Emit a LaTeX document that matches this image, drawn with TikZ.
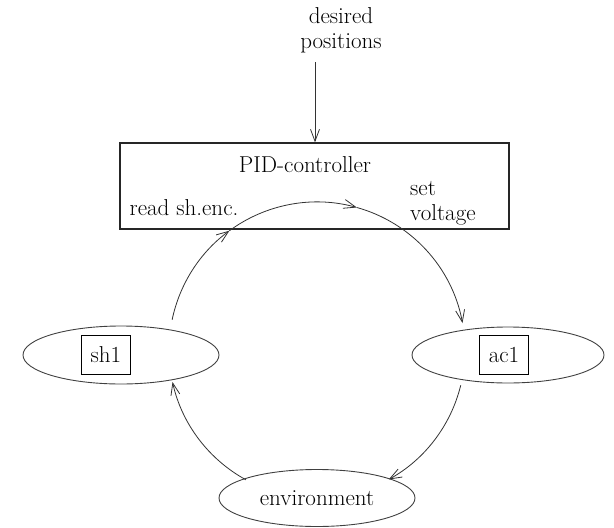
\documentclass[tikz,border=0pt]{standalone}
\usetikzlibrary{shapes.geometric,arrows.meta}
\newcommand\labelsize{\fontsize{23}{25}\selectfont}
\begin{document}
\begin{tikzpicture}[x=1pt,y=1pt,
  txt/.style={font=\labelsize, inner sep=0pt},
  flow/.style={line width=0.8pt, draw=black!80, -{Straight Barb[length=12pt,width=9pt,line width=0.8pt]}},
  ring/.style={ellipse, draw=black!75, line width=0.9pt, inner sep=0pt},
  tag/.style={rectangle, draw=black, line width=1.2pt, minimum width=49pt, minimum height=39pt, inner sep=0pt, font=\labelsize}
]
\useasboundingbox (0,0) rectangle (614,-528);

% controller block and its labels
\node[draw=black!85, line width=1.2pt, minimum width=389pt, minimum height=86pt, inner sep=0pt] (pid) at (314.5,-186) {};
\node[txt] (pidlbl) at (305,-165) {PID-controller};
\node[txt] (read) at (184,-208) {read sh.enc.};
\node[txt, align=left, anchor=west] (setv) at (410,-203) {set\\voltage};

% set-point input
\node[txt, align=center] (dp) at (341,-30) {desired\\positions};
\coordinate (in) at (315,-62);
\draw[flow] (in) -- (in |- pid.north);

% sensor, actuator and environment
\node[ring, minimum width=196pt, minimum height=58pt] (sh1) at (121,-355) {};
\node[tag] (sh1box) at (106,-355) {sh1};
\node[ring, minimum width=192pt, minimum height=56pt] (ac1) at (508,-355) {};
\node[tag] (ac1box) at (504,-355) {ac1};
\node[ring, minimum width=196pt, minimum height=57pt, font=\labelsize] (env) at (317,-498) {environment};

% control loop, drawn on one circle
\coordinate (c) at (317,-350);
\def\R{148}
\draw[flow] ([shift={(168.2:\R)}]c) arc[start angle=168.2, end angle=126.3, radius=\R];
\draw[flow] ([shift={(126.3:\R)}]c) arc[start angle=126.3, end angle=74.4, radius=\R];
\draw[flow] ([shift={(74.4:\R)}]c) arc[start angle=74.4, end angle=10.5, radius=\R];
\draw[flow] ([shift={(-13.8:\R)}]c) arc[start angle=-13.8, end angle=-61, radius=\R];
\draw[flow] ([shift={(-118.7:\R)}]c) arc[start angle=-118.7, end angle=-167.5, radius=\R];
\end{tikzpicture}
\end{document}
